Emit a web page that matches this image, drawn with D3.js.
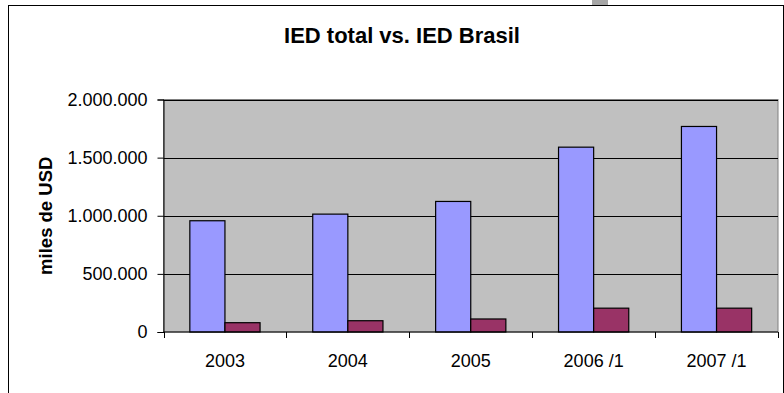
<!DOCTYPE html>
<html>
<head>
<meta charset="utf-8">
<script src="https://cdn.jsdelivr.net/npm/d3@7"></script>
<style>
  body { margin: 0; background: #fff; }
  svg { display: block; font-family: Arial, "Liberation Sans", sans-serif; }
</style>
</head>
<body>
<script>
// chart values
const categories = ['2003', '2004', '2005', '2006 /1', '2007 /1'];
const iedTotal = [957000, 1014000, 1123000, 1590000, 1768000];
const iedBrasil = [80000, 97000, 112000, 205000, 205000];
const yTicks = [0, 500000, 1000000, 1500000, 2000000];

const width = 784;
const height = 393;
const plot = { left: 163.5, right: 778, top: 99.5, bottom: 332 };

// dots as thousands separator
const locale = d3.formatLocale({ decimal: ',', thousands: '.', grouping: [3], currency: ['', ''] });
const fmt = locale.format(',');

const svg = d3.select('body')
    .append('svg')
        .attr('width', width)
        .attr('height', height);

// little grey tab above the frame
svg.append('rect')
    .attr('x', 592).attr('y', 0)
    .attr('width', 16).attr('height', 5)
    .attr('fill', '#a6a6a6');

// chart frame (bottom runs off the picture)
svg.append('rect')
    .attr('x', 8.5).attr('y', 5.5)
    .attr('width', 775).attr('height', 400)
    .attr('fill', '#fff')
    .attr('stroke', '#000');

//scales
const xScale = d3.scaleBand()
    .domain(categories)
    .range([plot.left, plot.right]);
const yScale = d3.scaleLinear()
    .domain([0, 2000000])
    .range([plot.bottom, plot.top]);

// plot background
svg.append('rect')
    .attr('x', plot.left).attr('y', plot.top)
    .attr('width', plot.right - plot.left)
    .attr('height', plot.bottom - plot.top)
    .attr('fill', '#c0c0c0')
    .attr('stroke', '#808080');

// gridlines
svg.append('g')
    .selectAll('line')
    .data(yTicks.slice(1))
    .enter()
    .append('line')
        .attr('x1', plot.left).attr('x2', plot.right)
        .attr('y1', d => Math.round(yScale(d)) + 0.5)
        .attr('y2', d => Math.round(yScale(d)) + 0.5)
        .attr('stroke', '#000');

// bars: excel gap width 150%
const bw = xScale.bandwidth() / 3.5;
const series = [
    { values: iedTotal, color: '#9999ff', offset: 0.75 },
    { values: iedBrasil, color: '#993366', offset: 1.75 }
];
series.forEach(s => {
    svg.append('g')
        .selectAll('rect')
        .data(s.values)
        .enter()
        .append('rect')
            .attr('x', (d, i) => xScale(categories[i]) + s.offset * bw)
            .attr('y', d => yScale(d))
            .attr('width', bw)
            .attr('height', d => yScale(0) - yScale(d))
            .attr('fill', s.color)
            .attr('stroke', '#000')
            .attr('stroke-width', 1.2);
});

//y axis
const yAxis = d3.axisLeft(yScale)
    .tickValues(yTicks)
    .tickFormat(fmt)
    .tickSize(6)
    .tickPadding(10);
svg.append('g')
    .attr('transform', `translate(${plot.left}, 0)`)
    .call(yAxis)
    .call(g => g.select('.domain').attr('stroke', '#000'))
    .call(g => g.selectAll('text')
        .attr('fill', '#000')
        .style('font-size', '18px')
        .style('font-family', 'Arial, "Liberation Sans", sans-serif'));

//x axis, ticks on category borders
const xAxisG = svg.append('g')
    .attr('transform', `translate(0, ${plot.bottom})`);
xAxisG.append('line')
    .attr('x1', plot.left).attr('x2', plot.right)
    .attr('stroke', '#000');
xAxisG.selectAll('line.tick')
    .data(categories.concat(['end']))
    .enter()
    .append('line')
        .attr('class', 'tick')
        .attr('x1', (d, i) => Math.round(plot.left + i * xScale.step()) + 0.5)
        .attr('x2', (d, i) => Math.round(plot.left + i * xScale.step()) + 0.5)
        .attr('y1', 0).attr('y2', 6)
        .attr('stroke', '#000');
xAxisG.selectAll('text')
    .data(categories)
    .enter()
    .append('text')
        .attr('x', d => xScale(d) + xScale.bandwidth() / 2)
        .attr('y', 35)
        .attr('text-anchor', 'middle')
        .style('font-size', '18px')
        .text(d => d);

// text label for the y axis
svg.append('text')
    .attr('transform', 'rotate(-90)')
    .attr('x', -(plot.top + plot.bottom) / 2)
    .attr('y', 52)
    .attr('text-anchor', 'middle')
    .style('font-size', '18.5px')
    .style('font-weight', 'bold')
    .text('miles de USD');

//title
svg.append('text')
    .attr('x', 402)
    .attr('y', 43)
    .attr('text-anchor', 'middle')
    .style('font-size', '22px')
    .style('font-weight', 'bold')
    .text('IED total vs. IED Brasil');
</script>
</body>
</html>
